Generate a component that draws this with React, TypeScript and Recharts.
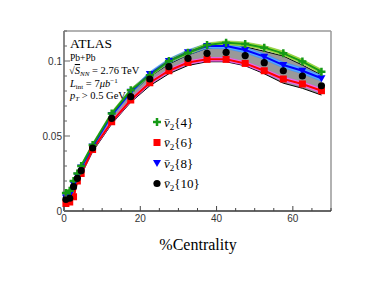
import React from "react";
import { ComposedChart, Line, Area, XAxis, YAxis, ReferenceLine } from "recharts";

document.body.style.margin = "0";

// centrality bin centres (%)
const centrality = [0.5, 1.5, 2.5, 3.5, 4.5, 7.5, 12.5, 17.5, 22.5, 27.5, 32.5, 37.5, 42.5, 47.5, 52.5, 57.5, 62.5, 67.5];

const v2_4 = [0.012, 0.0135, 0.02, 0.025, 0.03, 0.044, 0.065, 0.0805, 0.0905, 0.1, 0.1055, 0.1107, 0.1122, 0.1113, 0.1089, 0.1051, 0.0996, 0.0929];
const v2_6 = [0.005, 0.006, 0.0095, 0.02, 0.025, 0.041, 0.0595, 0.074, 0.0855, 0.0935, 0.099, 0.1011, 0.1011, 0.0984, 0.0935, 0.088, 0.0847, 0.0802];
const v2_8 = [0.009, 0.011, 0.018, 0.0235, 0.029, 0.043, 0.064, 0.0795, 0.0913, 0.1, 0.1058, 0.11, 0.11, 0.1073, 0.1029, 0.0973, 0.0935, 0.0885];
const v2_10 = [0.0078, 0.0085, 0.0162, 0.0218, 0.0269, 0.042, 0.0618, 0.0762, 0.088, 0.0962, 0.1018, 0.1051, 0.1058, 0.1036, 0.0989, 0.0935, 0.09, 0.0835];

// systematic bands
const err4 = [0.0012, 0.0012, 0.0012, 0.0012, 0.0012, 0.0012, 0.0012, 0.0012, 0.0012, 0.0012, 0.0013, 0.0013, 0.0013, 0.0014, 0.0014, 0.0015, 0.0015, 0.0016];
const err6 = [0.0012, 0.0012, 0.0012, 0.0012, 0.0012, 0.0012, 0.0012, 0.0012, 0.0012, 0.0012, 0.0012, 0.0012, 0.0013, 0.0013, 0.0013, 0.0014, 0.0014, 0.0015];
const err8 = [0.0015, 0.0015, 0.0015, 0.0015, 0.0015, 0.0015, 0.0015, 0.0015, 0.0016, 0.0016, 0.0017, 0.0017, 0.0018, 0.0018, 0.0019, 0.0019, 0.002, 0.002];
const gray_hi = [0.011, 0.0125, 0.019, 0.024, 0.029, 0.043, 0.0635, 0.0785, 0.0895, 0.098, 0.104, 0.1085, 0.11, 0.1095, 0.1065, 0.1033, 0.0973, 0.0907];
const gray_lo = [0.0045, 0.0055, 0.0085, 0.019, 0.024, 0.0395, 0.058, 0.0725, 0.0835, 0.0915, 0.097, 0.0995, 0.0995, 0.0968, 0.0915, 0.0852, 0.0818, 0.0773];

const xTicks = [0, 5, 10, 15, 20, 25, 30, 35, 40, 45, 50, 55, 60, 65, 70];
const yTicks = [0, 0.01, 0.02, 0.03, 0.04, 0.05, 0.06, 0.07, 0.08, 0.09, 0.1, 0.11, 0.12];

const data = centrality.map((c, i) => ({
  c,
  v4: v2_4[i],
  v6: v2_6[i],
  v8: v2_8[i],
  v10: v2_10[i],
  b4: [v2_4[i] - err4[i], v2_4[i] + err4[i]],
  b6: [v2_6[i] - err6[i], v2_6[i] + err6[i]],
  b8: [v2_8[i] - err8[i], v2_8[i] + err8[i]],
  b10: [gray_lo[i], gray_hi[i]],
}));

const GREEN = "#169a16";
const RED = "#ff0000";
const BLUE = "#0000ff";
const BLACK = "#000000";
const serif = "'Liberation Serif', 'DejaVu Serif', serif";
const sans = "'Liberation Sans', Arial, sans-serif";

function YTick(props: any) {
  const { x, y, payload } = props;
  const v = payload.value;
  const major = Math.abs(v * 20 - Math.round(v * 20)) < 1e-6 && v < 0.12;
  return (
    <g>
      <line x1={x} x2={x + (major ? 6 : 3)} y1={y} y2={y} stroke="#666" />
      {major && (
        <text x={x - 2} y={y + 3.5} textAnchor="end" fontSize={10} fontFamily={sans} fill="#333">
          {String(v)}
        </text>
      )}
    </g>
  );
}

function XTick(props: any) {
  const { x, y, payload } = props;
  const v = payload.value;
  const major = v % 20 === 0 && v < 70;
  return (
    <g>
      <line x1={x} x2={x} y1={y} y2={y - (major ? 5 : 3)} stroke="#444" />
      {major && (
        <text x={x} y={y + 11} textAnchor="middle" fontSize={10} fontFamily={sans} fill="#333">
          {String(v)}
        </text>
      )}
    </g>
  );
}

const crossPath = (cx: number, cy: number) => `M${cx - 4},${cy}h8M${cx},${cy - 4}v8`;
const triPath = (cx: number, cy: number) => `M${cx - 4},${cy - 3}L${cx + 4},${cy - 3}L${cx},${cy + 4}Z`;

const CrossDot = (p: any) => <path key={`g${p.index}`} d={crossPath(p.cx, p.cy)} stroke={GREEN} strokeWidth={2.5} />;
const SquareDot = (p: any) => <rect key={`r${p.index}`} x={p.cx - 3.5} y={p.cy - 3.5} width={7} height={7} fill={RED} />;
const TriDot = (p: any) => <path key={`b${p.index}`} d={triPath(p.cx, p.cy)} fill={BLUE} />;
const CircleDot = (p: any) => <circle key={`k${p.index}`} cx={p.cx} cy={p.cy} r={3.6} fill={BLACK} />;

const legendRows = [
  { n: "4", y: 122 },
  { n: "6", y: 142.5 },
  { n: "8", y: 163 },
  { n: "10", y: 183.5 },
];

function Overlay() {
  return (
    <svg width={380} height={287} style={{ position: "absolute", left: 0, top: 0, pointerEvents: "none" }}>
      <text x={70} y={48} fontSize={13.5} fontFamily={serif} fill="#000">ATLAS</text>
      <text x={70} y={61} fontSize={9.5} fontFamily={serif} fill="#000">Pb+Pb</text>
      <text x={69} y={74} fontSize={10.5} fontFamily={serif} fill="#000">
        √<tspan fontStyle="italic" style={{ textDecoration: "overline" }}>S</tspan>
        <tspan fontStyle="italic" fontSize={7} dy={2}>NN</tspan>
        <tspan dy={-2}> = 2.76 TeV</tspan>
      </text>
      <text x={70} y={87} fontSize={10.5} fontFamily={serif} fill="#000">
        <tspan fontStyle="italic">L</tspan>
        <tspan fontSize={7} dy={2}>int</tspan>
        <tspan dy={-2}> = 7</tspan>
        <tspan fontStyle="italic">μb</tspan>
        <tspan fontSize={7} dy={-4}>−1</tspan>
      </text>
      <text x={70} y={99} fontSize={10.5} fontFamily={serif} fill="#000">
        <tspan fontStyle="italic">p</tspan>
        <tspan fontStyle="italic" fontSize={7} dy={2}>T</tspan>
        <tspan dy={-2}> &gt; 0.5 GeV</tspan>
      </text>

      {legendRows.map((r, i) => (
        <g key={r.n}>
          {i === 0 && <path d={crossPath(157, r.y)} stroke={GREEN} strokeWidth={2.5} />}
          {i === 1 && <rect x={153.5} y={r.y - 3.5} width={7} height={7} fill={RED} />}
          {i === 2 && <path d={triPath(157, r.y)} fill={BLUE} />}
          {i === 3 && <circle cx={157} cy={r.y} r={3.6} fill={BLACK} />}
          <text x={164} y={r.y + 4.5} fontSize={13} fontFamily={serif} fill="#000">
            <tspan fontStyle="italic">{"v\u0304"}</tspan>
            <tspan fontSize={9} dy={3}>2</tspan>
            <tspan dy={-3}>{`{${r.n}}`}</tspan>
          </text>
        </g>
      ))}

      <text x={198} y={250} textAnchor="middle" fontSize={16} fontFamily={serif} fill="#000">%Centrality</text>
    </svg>
  );
}

export default function App() {
  return (
    <div style={{ position: "relative", width: 380, height: 287, background: "#fff" }}>
      <ComposedChart width={380} height={287} data={data} margin={{ top: 31, right: 49, bottom: 46, left: 0 }}>
        <XAxis
          dataKey="c"
          type="number"
          domain={[0, 70]}
          ticks={xTicks}
          interval={0}
          height={30}
          tickSize={0}
          tickMargin={0}
          tickLine={false}
          axisLine={{ stroke: "#333", strokeWidth: 1.5 }}
          tick={(p: any) => <XTick key={p.index} {...p} />}
        />
        <YAxis
          type="number"
          domain={[0, 0.12]}
          ticks={yTicks}
          interval={0}
          width={64}
          tickSize={0}
          tickMargin={0}
          tickLine={false}
          axisLine={{ stroke: "#888", strokeWidth: 2 }}
          tick={(p: any) => <YTick key={p.index} {...p} />}
        />
        <ReferenceLine y={0.12} stroke="#999" strokeWidth={1.5} />
        <ReferenceLine x={70} stroke="#999" strokeWidth={1.5} />

        <Area type="linear" dataKey="b10" stroke={BLACK} strokeWidth={1} fill="#999999" fillOpacity={1} isAnimationActive={false} activeDot={false} />
        <Area type="linear" dataKey="b6" stroke="#ff44ff" strokeWidth={0.5} fill="#e873f0" fillOpacity={1} isAnimationActive={false} activeDot={false} />
        <Area type="linear" dataKey="b8" stroke="#3388ff" strokeWidth={0.5} fill="#55a8ff" fillOpacity={1} isAnimationActive={false} activeDot={false} />
        <Area type="linear" dataKey="b4" stroke="#66bb22" strokeWidth={0.5} fill="#b0e040" fillOpacity={1} isAnimationActive={false} activeDot={false} />

        <Line type="linear" dataKey="v6" stroke={RED} strokeWidth={2} dot={SquareDot} activeDot={false} isAnimationActive={false} />
        <Line type="linear" dataKey="v8" stroke={BLUE} strokeWidth={2} dot={TriDot} activeDot={false} isAnimationActive={false} />
        <Line type="linear" dataKey="v4" stroke={GREEN} strokeWidth={2} dot={CrossDot} activeDot={false} isAnimationActive={false} />
        <Line type="linear" dataKey="v10" stroke={BLACK} strokeWidth={1} strokeOpacity={0} dot={CircleDot} activeDot={false} isAnimationActive={false} />
      </ComposedChart>
      <Overlay />
    </div>
  );
}
